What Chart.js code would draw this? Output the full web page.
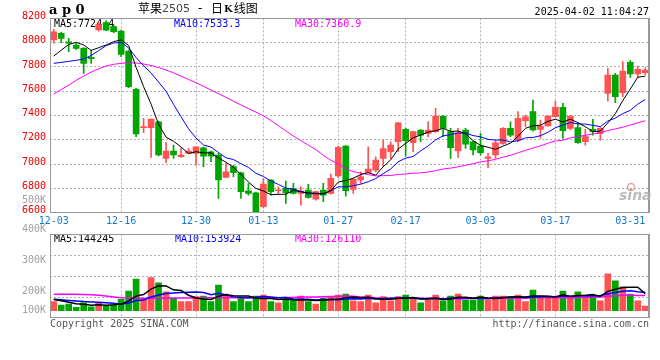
<!DOCTYPE html>
<html>
<head>
<meta charset="utf-8">
<title>苹果2505 日K线图</title>
<script src="https://cdn.jsdelivr.net/npm/chart.js@4/dist/chart.umd.min.js"></script>
<style>
  html, body { margin: 0; padding: 0; background: #fff; }
  #wrap { position: relative; width: 660px; height: 360px; overflow: hidden; background: #fff; }
  canvas { position: absolute; left: 0; }
  #k { top: 0; }
  #vol { top: 190px; }
</style>
</head>
<body>
<div id="wrap">
  <canvas id="k" width="660" height="236"></canvas>
  <canvas id="vol" width="660" height="150"></canvas>
</div>
<script>
// trading days, 2024-12-03 .. 2025-04-02
const DATES = [
  '12-03','12-04','12-05','12-06','12-09','12-10','12-11','12-12','12-13','12-16',
  '12-17','12-18','12-19','12-20','12-23','12-24','12-25','12-26','12-27','12-30',
  '12-31','01-02','01-03','01-06','01-07','01-08','01-09','01-10','01-13','01-14',
  '01-15','01-16','01-17','01-20','01-21','01-22','01-23','01-24','01-27','02-05',
  '02-06','02-07','02-10','02-11','02-12','02-13','02-14','02-17','02-18','02-19',
  '02-20','02-21','02-24','02-25','02-26','02-27','02-28','03-03','03-04','03-05',
  '03-06','03-07','03-10','03-11','03-12','03-13','03-14','03-17','03-18','03-19',
  '03-20','03-21','03-24','03-25','03-26','03-27','03-28','03-31','04-01','04-02'
];
const TICK_DATES = ['12-03','12-16','12-30','01-13','01-27','02-17','03-03','03-17','03-31'];
const GRID_DATES = ['12-16','12-30','01-13','01-27','02-17','03-03','03-17'];

const OPEN = [
  8022,8077,8008,7981,7953,7879,8105,8165,8132,8096,
  7931,7616,7300,7300,7349,7047,7108,7061,7088,7088,
  7135,7102,7075,6891,6979,6929,6781,6764,6649,6869,
  6781,6800,6800,6759,6787,6712,6787,6759,6902,7149,
  6792,6869,6932,6951,7047,7102,7184,7286,7176,7281,
  7253,7267,7396,7267,7108,7281,7184,7149,7047,7075,
  7171,7294,7198,7357,7432,7286,7314,7390,7467,7294,
  7300,7184,7286,7253,7583,7734,7588,7838,7742,7753
];
const HIGH = [
  8110,8085,8036,7994,7959,7940,8170,8182,8145,8104,
  7940,7624,7377,7371,7355,7179,7157,7130,7130,7143,
  7140,7110,7088,7006,6992,6935,6841,6770,6883,6872,
  6814,6860,6841,6814,6833,6776,6841,6918,7149,7152,
  6883,6937,7143,7061,7198,7184,7345,7294,7270,7285,
  7349,7459,7400,7294,7294,7294,7188,7253,7088,7193,
  7300,7349,7432,7404,7528,7363,7400,7520,7500,7400,
  7341,7286,7368,7308,7789,7748,7844,7852,7808,7794
];
const LOW = [
  7995,8000,7926,7945,7747,7830,8095,8098,8083,7885,
  7630,7226,7259,7055,7067,7012,7047,7055,7085,6992,
  6979,7020,6718,6891,6896,6718,6745,6600,6640,6745,
  6754,6677,6754,6663,6720,6704,6690,6753,6891,6737,
  6759,6841,6928,6937,6979,7047,7102,7066,7102,7184,
  7226,7262,7226,7047,7053,7130,7075,7075,6970,7047,
  7163,7226,7184,7308,7272,7212,7310,7386,7212,7281,
  7171,7157,7239,7198,7520,7506,7555,7714,7714,7734
];
const CLOSE = [
  8090,8036,7995,7953,7830,7868,8150,8104,8091,7904,
  7638,7248,7310,7371,7075,7108,7075,7075,7108,7143,
  7066,7066,6869,6937,6929,6773,6759,6602,6836,6773,
  6787,6764,6759,6778,6726,6773,6745,6883,7138,6781,
  6874,6896,6959,7033,7129,7157,7341,7193,7267,7239,
  7281,7396,7294,7135,7259,7165,7116,7094,7061,7176,
  7294,7239,7377,7390,7281,7314,7396,7467,7275,7396,
  7176,7226,7267,7294,7734,7555,7767,7742,7780,7775
];

const MA5 = [
  7890,7938,7985,8003,7981,7936,7959,7981,8009,8023,
  7977,7797,7638,7494,7328,7222,7188,7141,7088,7102,
  7093,7092,7050,7016,6973,6915,6853,6800,6779,6748,
  6751,6752,6784,6772,6763,6760,6756,6781,6853,6864,
  6884,6914,6930,6909,6978,7035,7124,7171,7217,7239,
  7264,7275,7295,7269,7273,7250,7194,7154,7139,7122,
  7148,7173,7229,7295,7316,7320,7352,7370,7347,7370,
  7342,7308,7268,7272,7339,7415,7523,7618,7716,7724
];
const MA10 = [
  7830,7838,7846,7855,7866,7895,7935,7975,7998,8002,
  7957,7878,7810,7751,7676,7600,7492,7390,7291,7215,
  7158,7140,7096,7052,7038,7004,6973,6925,6898,6861,
  6833,6803,6792,6776,6756,6756,6754,6782,6813,6813,
  6822,6835,6855,6881,6921,6960,7019,7050,7063,7109,
  7150,7200,7233,7243,7256,7257,7235,7225,7204,7198,
  7199,7183,7192,7217,7219,7234,7262,7300,7321,7343,
  7331,7330,7319,7309,7355,7379,7416,7443,7494,7532
];
const MA30 = [
  7577,7615,7650,7690,7725,7758,7785,7808,7822,7830,
  7835,7833,7825,7812,7795,7775,7752,7725,7697,7670,
  7640,7610,7580,7550,7518,7487,7457,7428,7398,7359,
  7316,7274,7232,7193,7156,7120,7073,7032,7001,6963,
  6938,6926,6914,6903,6905,6906,6915,6919,6925,6928,
  6935,6946,6960,6967,6978,6991,7003,7019,7027,7040,
  7057,7073,7093,7114,7132,7150,7172,7191,7196,7217,
  7227,7238,7248,7257,7277,7290,7304,7322,7340,7357
];

// volume, thousands of lots
const VOLUME = [
  77,48,57,28,68,34,63,40,48,97,
  168,271,105,282,239,162,105,77,77,120,
  125,77,219,142,77,111,77,125,134,77,
  68,97,85,125,77,57,105,120,134,142,
  85,77,134,68,120,85,120,134,105,68,
  91,134,85,125,142,91,91,125,91,125,
  125,120,134,77,177,125,105,105,168,105,
  162,125,134,85,315,255,205,142,85,40
];
const VOL_MA5 = [
  95,85,72,60,55.6,47,50,46.6,50.6,56.4,
  83.2,124.8,137.8,184.6,213,211.8,178.6,173,132,108.2,
  100.8,95.2,123.6,136.6,128,125.2,125.2,106.4,104.8,104.8,
  96.2,100.2,92.2,90.4,90.4,88.2,89.8,96.8,98.6,111.6,
  117.2,111.6,114.4,101.2,96.8,96.8,105.4,105.4,112.8,102.4,
  103.6,106.4,96.6,100.6,115.4,115.4,106.8,114.8,108,104.6,
  111.4,117.2,119,116.2,126.6,126.6,123.6,117.8,136,121.6,
  129,133,138.8,122.2,164.2,182.8,198.8,200.4,200.4,145.4
];
const VOL_MA10 = [
  97,93,88,83,78,75,72,68,63,56,
  65.1,87.4,92.2,117.6,134.7,147.5,151.7,155.4,158.3,160.6,
  156.3,136.9,148.3,134.3,118.1,113,110.2,115,120.7,116.4,
  110.7,112.7,99.3,97.6,97.6,92.2,95,94.5,94.5,101,
  102.7,100.7,105.6,99.9,104.2,107,108.5,109.9,107,99.6,
  100.2,105.9,101,106.7,108.9,109.5,106.6,105.7,104.3,110,
  113.4,112,116.9,112.1,115.6,119,120.4,118.4,126.1,124.1,
  127.8,128.3,128.3,129.1,142.9,155.9,165.9,169.6,161.3,154.8
];
const VOL_MA30 = [
  140,140,140,140,139,136,132,126,118,111,
  108,108,107,107,107,107,108,108,109,109,
  110,110,110,111,111,111,111,111,111,111,
  110.7,112.3,113.3,116.5,116.8,117.6,119,121.6,124.5,126,
  123.2,116.8,117.7,110.6,106.6,104.1,104.6,106.5,107.4,105.7,
  104.5,106.4,102,101.4,103.6,102.9,103.4,103.4,101.9,103.5,
  105.4,106.2,107.8,106.2,109.6,111.8,111.8,111.3,112.5,111.2,
  113.8,115.4,115.4,116,122.5,128.1,131,131.2,130.6,129.6
];

const PRICE_MIN = 6600, PRICE_MAX = 8200, PRICE_STEP = 200;
const VOL_MIN = -65, VOL_MAX = 653;
const VOL_AXIS_LABELS = ['500K', '400K', '300K', '200K', '100K'];
const MA_LABELS = ['MA5:7724.4', 'MA10:7533.3', 'MA30:7360.9'];
const VOL_MA_LABELS = ['MA5:144245', 'MA10:153924', 'MA30:126110'];

const RED = '#ff5252';
const GREEN = '#00a600';
const MA_COLORS = ['#000000', '#0000ff', '#ff00ff'];
const GRID = '#b0b0b0';
const NONE = 'rgba(0,0,0,0)';
const MONO = '"DejaVu Sans Mono", monospace';
const CJK = '"Noto Sans CJK SC"';

const candleColors = CLOSE.map((c, i) => (c >= OPEN[i] ? RED : GREEN));

function put(ctx, str, x, y, color, font, align) {
  ctx.font = font;
  ctx.fillStyle = color;
  ctx.textAlign = align || 'left';
  ctx.textBaseline = 'middle';
  ctx.fillText(str, x, y);
  return ctx.measureText(str).width;
}

// grey box round the plot, a bit heavier on the right
const framePlugin = {
  id: 'frame',
  afterDatasetsDraw(chart) {
    const { ctx, chartArea: a } = chart;
    const l = Math.round(a.left), t = Math.round(a.top);
    const r = Math.round(a.right), b = Math.round(a.bottom);
    ctx.save();
    ctx.strokeStyle = '#999';
    ctx.lineWidth = 1;
    ctx.strokeRect(l + 0.5, t + 0.5, r - l - 1, b - t - 1);
    ctx.lineWidth = 2;
    ctx.beginPath();
    ctx.moveTo(r, t);
    ctx.lineTo(r, b);
    ctx.stroke();
    ctx.restore();
  }
};

const kTextPlugin = {
  id: 'kText',
  beforeDatasetsDraw(chart) {
    const ctx = chart.ctx;
    ctx.save();
    const xs = [54, 174, 295];
    MA_LABELS.forEach((s, i) => put(ctx, s, xs[i], 24.5, MA_COLORS[i], '10px ' + MONO));
    ctx.restore();
  },
  afterDraw(chart) {
    const ctx = chart.ctx;
    ctx.save();
    put(ctx, 'a p 0', 49, 11, '#000', 'bold 13px "DejaVu Serif"');
    // title is set in pieces, like the original
    let x = 138;
    x += put(ctx, '苹果', x, 8.5, '#000', '12px ' + CJK);
    x += put(ctx, '2505', x, 9, '#444', '11px "DejaVu Sans"');
    put(ctx, '-', 198, 8.5, '#000', '12px "DejaVu Sans"');
    x = 211;
    x += put(ctx, '日', x, 8.5, '#000', '12px ' + CJK);
    x += put(ctx, 'K', x + 1, 9, '#000', 'bold 10px "DejaVu Serif"') + 1;
    put(ctx, '线图', x + 1, 8.5, '#000', '12px ' + CJK);
    put(ctx, '2025-04-02 11:04:27', 649, 12, '#000', '10px ' + MONO, 'right');
    // sina watermark
    put(ctx, 'sina', 619, 196, 'rgba(170,170,170,0.8)', 'italic bold 14px "DejaVu Sans"');
    ctx.strokeStyle = 'rgba(235,120,120,0.7)';
    ctx.lineWidth = 1.5;
    ctx.beginPath();
    ctx.arc(631, 187, 3.5, 0, Math.PI * 2);
    ctx.stroke();
    ctx.restore();
  }
};

const volTextPlugin = {
  id: 'volText',
  beforeDatasetsDraw(chart) {
    const ctx = chart.ctx;
    ctx.save();
    const xs = [54, 175, 295];
    VOL_MA_LABELS.forEach((s, i) => put(ctx, s, xs[i], 49.5, MA_COLORS[i], '10px ' + MONO));
    ctx.restore();
  },
  afterDraw(chart) {
    const ctx = chart.ctx;
    ctx.save();
    // Sina prints these volume labels at its own odd heights
    const ys = [10.5, 39.5, 70.7, 101, 120.7];
    VOL_AXIS_LABELS.forEach((s, i) => put(ctx, s, 46, ys[i], '#a0a0a0', '10px ' + MONO, 'right'));
    put(ctx, 'Copyright 2025 SINA.COM', 50, 134, '#555', '10px ' + MONO);
    put(ctx, 'http://finance.sina.com.cn', 649, 134, '#555', '10px ' + MONO, 'right');
    ctx.restore();
  }
};

const xGrid = {
  offset: false,
  drawTicks: false,
  color: (c) => (GRID_DATES.includes(DATES[c.index]) ? GRID : NONE)
};

const lineSet = (label, data, color, width) => ({
  type: 'line', label, data,
  borderColor: color, borderWidth: width,
  pointRadius: 0, tension: 0, fill: false, order: 0
});

new Chart(document.getElementById('k'), {
  type: 'bar',
  data: {
    labels: DATES,
    datasets: [
      lineSet('MA5', MA5, MA_COLORS[0], 1),
      lineSet('MA10', MA10, MA_COLORS[1], 1),
      lineSet('MA30', MA30, MA_COLORS[2], 1),
      {
        label: 'body',
        data: OPEN.map((o, i) => [o, CLOSE[i]]),
        backgroundColor: candleColors,
        barThickness: 6, minBarLength: 1, grouped: false, order: 1
      },
      {
        label: 'wick',
        data: LOW.map((l, i) => [l, HIGH[i]]),
        backgroundColor: candleColors,
        barThickness: 1, grouped: false, order: 2
      }
    ]
  },
  options: {
    responsive: false,
    animation: false,
    devicePixelRatio: 1,
    events: [],
    layout: { padding: { top: 18.4, right: 11, left: 0, bottom: 0 } },
    plugins: { legend: { display: false }, tooltip: { enabled: false } },
    scales: {
      x: {
        offset: true,
        grid: xGrid,
        border: { display: false, dash: [2, 2] },
        ticks: {
          autoSkip: false, maxRotation: 0, padding: 3,
          color: '#1577cf', font: { family: MONO, size: 10 },
          callback: (v, i) => (TICK_DATES.includes(DATES[i]) ? DATES[i] : '')
        },
        afterFit: (s) => { s.height = 23.3; }
      },
      y: {
        min: PRICE_MIN, max: PRICE_MAX,
        grid: {
          drawTicks: false,
          color: (c) => (c.tick.value === PRICE_MIN || c.tick.value === PRICE_MAX ? NONE : GRID)
        },
        border: { display: false, dash: [2, 2] },
        ticks: {
          stepSize: PRICE_STEP, padding: 4, labelOffset: -2,
          color: '#ee0000', font: { family: MONO, size: 10 },
          callback: (v) => String(v)
        },
        afterFit: (s) => { s.width = 50; }
      }
    }
  },
  plugins: [kTextPlugin, framePlugin]
});

new Chart(document.getElementById('vol'), {
  type: 'bar',
  data: {
    labels: DATES,
    datasets: [
      lineSet('MA5', VOL_MA5, MA_COLORS[0], 1.5),
      lineSet('MA10', VOL_MA10, MA_COLORS[1], 1.5),
      lineSet('MA30', VOL_MA30, MA_COLORS[2], 1.5),
      {
        label: 'volume',
        data: VOLUME,
        backgroundColor: candleColors,
        barThickness: 6, order: 1
      }
    ]
  },
  options: {
    responsive: false,
    animation: false,
    devicePixelRatio: 1,
    events: [],
    layout: { padding: { top: 44.3, right: 11, left: 0, bottom: 21.7 } },
    plugins: { legend: { display: false }, tooltip: { enabled: false } },
    scales: {
      x: {
        offset: true,
        grid: xGrid,
        border: { display: false, dash: [2, 2] },
        ticks: { display: false },
        afterFit: (s) => { s.height = 0; }
      },
      y: {
        min: VOL_MIN, max: VOL_MAX,
        afterBuildTicks: (s) => {
          s.ticks = [0, 1, 2, 3, 4].map((k) => ({ value: VOL_MIN + k * (VOL_MAX - VOL_MIN) / 4 }));
        },
        grid: {
          drawTicks: false,
          color: (c) => (c.index === 0 || c.index === 4 ? NONE : GRID)
        },
        border: { display: false, dash: [2, 2] },
        ticks: { display: false },
        afterFit: (s) => { s.width = 50; }
      }
    }
  },
  plugins: [volTextPlugin, framePlugin]
});
</script>
</body>
</html>
